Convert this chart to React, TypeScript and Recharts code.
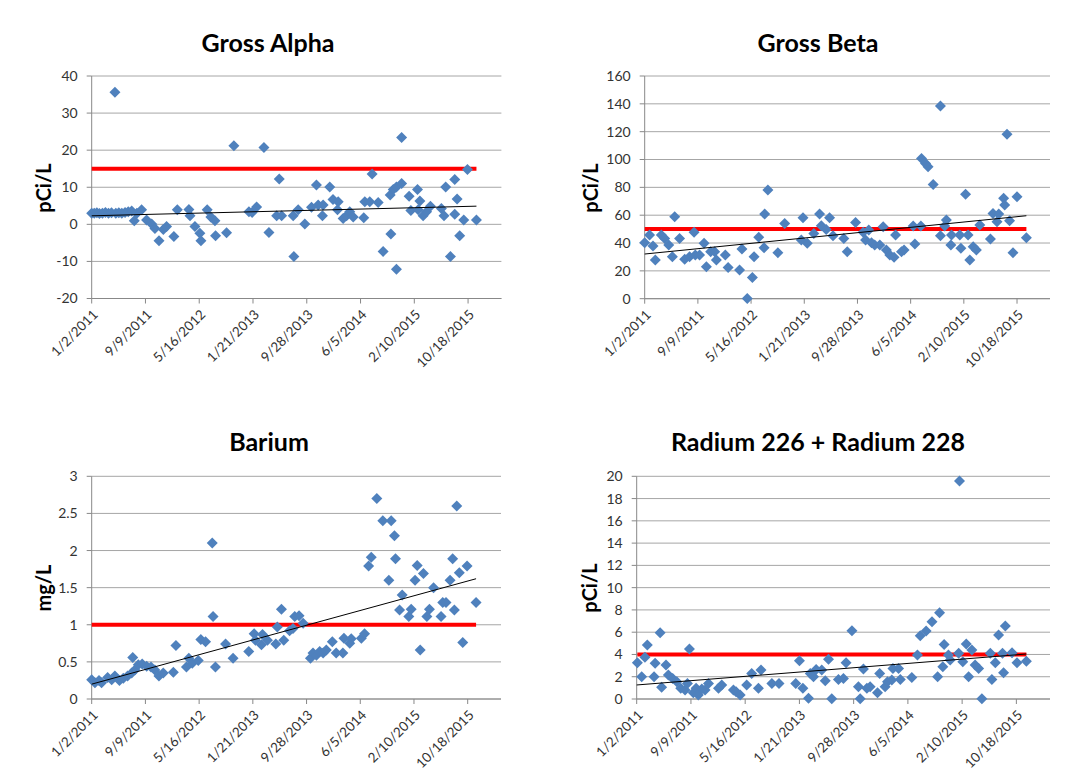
import React from 'react';
import { ScatterChart, Scatter, XAxis, YAxis, CartesianGrid } from 'recharts';

// sample dates are stored as days after 1/2/2011
const START = Date.UTC(2011, 0, 2);
const X_MAX = 1905;
const xTicks = [0, 250, 500, 750, 1000, 1250, 1500, 1750];

const grossAlpha: [number, number][] = [
  [0, 3.0], [12, 3.0], [24, 3.1], [36, 2.9], [50, 3.0], [64, 3.2], [78, 3.0], [92, 3.1], [108, 35.6],
  [112, 3.0], [126, 3.1], [140, 3.0], [155, 3.2], [170, 3.4], [186, 3.6], [198, 1.0], [210, 3.0],
  [232, 3.9], [255, 1.2], [279, 0.1], [294, -1.1], [313, -4.4], [333, -1.4], [348, -0.6], [382, -3.3],
  [398, 3.9], [452, 4.0], [457, 2.3], [480, -0.6], [503, -2.4], [508, -4.4], [537, 3.9], [554, 2.0],
  [573, 1.0], [576, -3.1], [627, -2.3], [661, 21.2], [731, 3.4], [746, 3.2], [767, 4.7], [801, 20.7],
  [824, -2.2], [860, 2.3], [872, 12.2], [883, 2.3], [937, 2.3], [940, -8.7], [960, 3.9], [991, 0.1],
  [1022, 4.6], [1045, 10.6], [1053, 5.2], [1073, 2.3], [1076, 5.2], [1107, 10.1], [1122, 6.7],
  [1143, 3.9], [1146, 6.1], [1169, 1.6], [1185, 2.3], [1200, 3.4], [1216, 2.0], [1265, 1.8],
  [1270, 6.1], [1293, 6.1], [1304, 13.6], [1332, 5.9], [1355, -7.3], [1388, 7.9], [1391, -2.6],
  [1402, 9.4], [1417, 10.1], [1417, -12.1], [1441, 11.0], [1441, 23.4], [1476, 7.6], [1484, 3.7],
  [1515, 9.4], [1518, 3.9], [1526, 6.3], [1541, 2.3], [1557, 3.4], [1575, 4.9], [1626, 4.3],
  [1638, 2.3], [1646, 10.1], [1668, -8.7], [1688, 12.1], [1688, 2.7], [1699, 6.8], [1711, -3.1],
  [1730, 1.2], [1747, 14.8], [1789, 1.2],
];

const grossBeta: [number, number][] = [
  [0, 40.2], [23, 45.7], [39, 37.8], [50, 27.8], [78, 45.7], [94, 43.3], [113, 38.6], [130, 30.2],
  [141, 58.9], [164, 43.3], [188, 28.3], [211, 30.2], [232, 47.7], [238, 31.4], [258, 31.4],
  [279, 39.8], [290, 23.0], [310, 33.8], [329, 33.8], [337, 27.8], [379, 31.4], [392, 22.5],
  [446, 20.6], [457, 35.7], [482, 0.2], [506, 15.3], [514, 30.2], [536, 44.1], [561, 36.6],
  [564, 60.8], [579, 78.1], [626, 33.1], [658, 54.1], [736, 42.2], [744, 58.2], [764, 39.8],
  [795, 46.9], [822, 60.8], [830, 52.4], [853, 49.8], [869, 58.2], [885, 45.3], [936, 43.3],
  [952, 33.8], [991, 54.8], [1027, 47.7], [1038, 42.2], [1053, 49.3], [1066, 40.2], [1081, 38.6],
  [1105, 38.6], [1121, 51.7], [1136, 35.0], [1152, 31.4], [1172, 29.7], [1179, 45.7], [1207, 33.8],
  [1219, 35.0], [1262, 52.2], [1270, 39.3], [1298, 52.2], [1301, 100.8], [1320, 97.2], [1332, 94.8],
  [1356, 82.1], [1390, 138.4], [1390, 45.3], [1410, 52.2], [1418, 56.5], [1439, 38.6], [1442, 45.7],
  [1481, 45.7], [1486, 36.2], [1508, 75.0], [1520, 45.7], [1528, 27.8], [1544, 37.4], [1559, 35.0],
  [1575, 52.9], [1625, 42.9], [1637, 61.3], [1656, 55.3], [1664, 60.8], [1687, 72.1], [1692, 67.3],
  [1703, 118.1], [1715, 56.0], [1731, 33.1], [1750, 73.3], [1794, 43.8],
];

const barium: [number, number][] = [
  [0, 0.26], [15, 0.22], [34, 0.25], [46, 0.22], [74, 0.29], [93, 0.26], [108, 0.31], [129, 0.25],
  [147, 0.28], [167, 0.31], [186, 0.35], [191, 0.56], [201, 0.39], [217, 0.46], [235, 0.47],
  [256, 0.44], [276, 0.43], [294, 0.39], [313, 0.31], [333, 0.35], [380, 0.36], [392, 0.72],
  [441, 0.43], [452, 0.55], [468, 0.48], [496, 0.52], [508, 0.8], [530, 0.77], [561, 2.1],
  [565, 1.11], [576, 0.43], [623, 0.74], [658, 0.55], [731, 0.64], [756, 0.88], [762, 0.79],
  [790, 0.73], [795, 0.87], [818, 0.79], [857, 0.74], [864, 0.97], [883, 1.21], [894, 0.79],
  [921, 0.92], [937, 0.95], [945, 1.11], [965, 1.12], [984, 1.02], [1018, 0.55], [1030, 0.62],
  [1046, 0.59], [1061, 0.64], [1077, 0.62], [1092, 0.66], [1120, 0.77], [1138, 0.62], [1169, 0.62],
  [1174, 0.82], [1201, 0.75], [1208, 0.81], [1255, 0.82], [1270, 0.88], [1289, 1.79], [1301, 1.91],
  [1327, 2.7], [1355, 2.4], [1383, 1.6], [1394, 2.4], [1409, 2.2], [1414, 1.89], [1433, 1.2],
  [1445, 1.4], [1476, 1.11], [1487, 1.21], [1505, 1.6], [1515, 1.8], [1529, 0.66], [1544, 1.69],
  [1560, 1.11], [1572, 1.21], [1591, 1.5], [1626, 1.11], [1634, 1.3], [1649, 1.3], [1668, 1.6],
  [1680, 1.89], [1688, 1.2], [1699, 2.6], [1711, 1.7], [1727, 0.76], [1747, 1.79], [1789, 1.3],
];

const radium: [number, number][] = [
  [3, 3.26], [23, 2.0], [38, 3.74], [49, 4.84], [80, 2.0], [85, 3.2], [108, 5.95], [115, 1.05],
  [135, 3.05], [146, 2.15], [166, 1.85], [185, 1.55], [203, 0.96], [223, 0.81], [234, 1.4],
  [243, 4.48], [261, 0.57], [274, 0.96], [284, 0.36], [300, 0.9], [315, 0.81], [331, 1.4],
  [377, 0.96], [392, 1.26], [446, 0.81], [458, 0.66], [477, 0.36], [507, 1.26], [530, 2.3],
  [561, 0.96], [573, 2.6], [623, 1.4], [656, 1.4], [733, 1.4], [750, 3.44], [766, 0.96], [792, 0.06],
  [800, 2.3], [815, 2.0], [827, 2.66], [853, 2.6], [869, 1.64], [884, 3.56], [899, 0.03], [930, 1.76],
  [953, 1.85], [965, 3.26], [992, 6.13], [1022, 1.1], [1030, 0.03], [1045, 2.69], [1061, 0.96],
  [1076, 1.1], [1110, 0.57], [1120, 2.3], [1145, 1.1], [1156, 1.55], [1176, 1.7], [1181, 2.75],
  [1207, 2.75], [1215, 1.76], [1268, 1.94], [1294, 3.95], [1307, 5.68], [1334, 6.1], [1361, 6.94],
  [1387, 2.0], [1396, 7.74], [1411, 2.9], [1417, 4.9], [1437, 3.95], [1445, 3.5], [1484, 4.1],
  [1488, 19.58], [1503, 3.35], [1519, 4.93], [1530, 2.0], [1545, 4.4], [1560, 3.05], [1576, 2.75],
  [1591, 0.03], [1630, 4.1], [1637, 1.76], [1653, 3.26], [1668, 5.74], [1686, 4.1], [1691, 2.36],
  [1699, 6.55], [1730, 4.16], [1753, 3.26], [1796, 3.4],
];

const alphaTicks = [-20, -10, 0, 10, 20, 30, 40];
const betaTicks = [0, 20, 40, 60, 80, 100, 120, 140, 160];
const bariumTicks = [0, 0.5, 1, 1.5, 2, 2.5, 3];
const radiumTicks = [0, 2, 4, 6, 8, 10, 12, 14, 16, 18, 20];

// regulatory limits (red lines)
const alphaLimit = 15;
const betaLimit = 50;
const bariumLimit = 1;
const radiumLimit = 4;

// linear trendline at first and last sample
const alphaTrend = [2.3, 4.9];
const betaTrend = [32.1, 59.6];
const bariumTrend = [0.2, 1.62];
const radiumTrend = [1.26, 4.04];

const FONT = 'Lato, "Open Sans", sans-serif';
const BLUE = '#4F81BD';
const AXIS = '#888888';

const fmtDate = (d: number) => {
  const dt = new Date(START + d * 86400000);
  return `${dt.getUTCMonth() + 1}/${dt.getUTCDate()}/${dt.getUTCFullYear()}`;
};

const Diamond = (props: any) => {
  const { cx, cy } = props;
  if (cx == null || cy == null) return <g />;
  const r = 5.5;
  return <path d={`M${cx},${cy - r}L${cx + r},${cy}L${cx},${cy + r}L${cx - r},${cy}Z`} fill={BLUE} />;
};

const NoDot = () => <g />;

const DateTick = (props: any) => {
  const { x, y, payload } = props;
  const tx = x + 7;
  const ty = y + 12;
  return (
    <text x={tx} y={ty} transform={`rotate(-45 ${tx} ${ty})`} textAnchor="end"
      fontSize={13.5} fill="#333333" fontFamily={FONT}>
      {fmtDate(payload.value)}
    </text>
  );
};

type PanelProps = {
  left: number;
  top: number;
  plot: { l: number; r: number; t: number; b: number };
  title: string;
  titleX: number;
  titleY: number;
  yLabel: string;
  labelX: number;
  labelY: number;
  points: [number, number][];
  ticks: number[];
  limit: number;
  trend: number[];
};

const W = 534;
const H = 387;
const Y_W = 40;
const X_H = 70;

const Panel = (p: PanelProps) => {
  const data = p.points.map(([x, y]) => ({ x, y }));
  const first = p.points[0][0];
  const last = p.points[p.points.length - 1][0];
  const limitLine = [{ x: first, y: p.limit }, { x: last, y: p.limit }];
  const trendLine = [{ x: 0, y: p.trend[0] }, { x: last, y: p.trend[1] }];
  const margin = {
    top: p.plot.t - p.top,
    left: p.plot.l - p.left - Y_W,
    right: p.left + W - p.plot.r,
    bottom: p.top + H - p.plot.b - X_H,
  };
  const domain = [p.ticks[0], p.ticks[p.ticks.length - 1]];
  return (
    <>
      <div style={{
        position: 'absolute', left: p.titleX - 200, top: p.titleY - 16, width: 400, height: 32,
        lineHeight: '32px', textAlign: 'center', fontSize: 25, fontWeight: 700, fontFamily: FONT, color: '#000',
      }}>{p.title}</div>
      <div style={{
        position: 'absolute', left: p.labelX - 50, top: p.labelY - 13, width: 100, height: 26,
        lineHeight: '26px', textAlign: 'center', fontSize: 20, fontWeight: 700, fontFamily: FONT,
        color: '#000', transform: 'rotate(-90deg)',
      }}>{p.yLabel}</div>
      <div style={{ position: 'absolute', left: p.left, top: p.top }}>
        <ScatterChart width={W} height={H} margin={margin}>
          <CartesianGrid vertical={false} stroke="#a6a6a6" />
          <XAxis type="number" dataKey="x" domain={[0, X_MAX]} ticks={xTicks} interval={0}
            height={X_H} tick={<DateTick />} tickSize={5} tickMargin={0}
            axisLine={{ stroke: AXIS }} tickLine={{ stroke: AXIS }} />
          <YAxis type="number" dataKey="y" domain={domain} ticks={p.ticks} interval={0} width={Y_W}
            tickSize={5} tickMargin={9} axisLine={{ stroke: AXIS }} tickLine={{ stroke: AXIS }}
            tick={{ fontSize: 14, fill: '#333333', fontFamily: FONT }} />
          <Scatter data={limitLine} line={{ stroke: '#FF0000', strokeWidth: 4 }} shape={NoDot}
            isAnimationActive={false} />
          <Scatter data={data} shape={Diamond} isAnimationActive={false} />
          <Scatter data={trendLine} line={{ stroke: '#000000', strokeWidth: 1 }} shape={NoDot}
            isAnimationActive={false} />
        </ScatterChart>
      </div>
    </>
  );
};

export default function App() {
  return (
    <div style={{ position: 'absolute', left: 0, top: 0, width: 1068, height: 775, background: '#fff', overflow: 'hidden' }}>
      <Panel left={0} top={0} plot={{ l: 91.7, r: 501.4, t: 76, b: 298.5 }}
        title="Gross Alpha" titleX={268} titleY={42} yLabel="pCi/L" labelX={43} labelY={188}
        points={grossAlpha} ticks={alphaTicks} limit={alphaLimit} trend={alphaTrend} />
      <Panel left={534} top={0} plot={{ l: 644.7, r: 1050, t: 76, b: 298.7 }}
        title="Gross Beta" titleX={818} titleY={42} yLabel="pCi/L" labelX={590} labelY={188}
        points={grossBeta} ticks={betaTicks} limit={betaLimit} trend={betaTrend} />
      <Panel left={0} top={387} plot={{ l: 91.7, r: 501, t: 476.3, b: 699 }}
        title="Barium" titleX={269} titleY={441} yLabel="mg/L" labelX={43} labelY={588}
        points={barium} ticks={bariumTicks} limit={bariumLimit} trend={bariumTrend} />
      <Panel left={534} top={387} plot={{ l: 636.7, r: 1050, t: 476.3, b: 699 }}
        title="Radium 226 + Radium 228" titleX={818} titleY={441} yLabel="pCi/L" labelX={589} labelY={588}
        points={radium} ticks={radiumTicks} limit={radiumLimit} trend={radiumTrend} />
    </div>
  );
}
